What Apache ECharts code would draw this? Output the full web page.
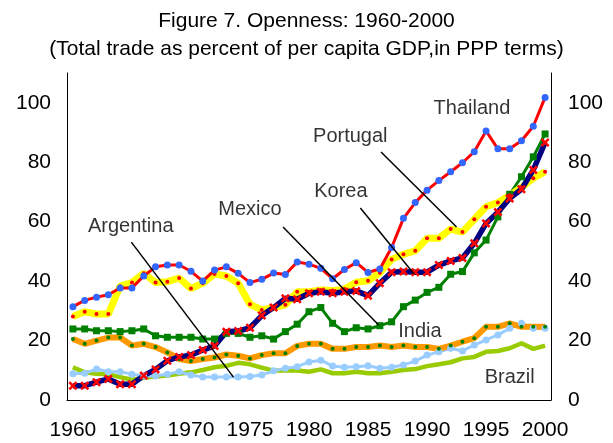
<!DOCTYPE html>
<html>
<head>
    <meta charset="utf-8">
    <title>Openness 1960-2000</title>
    <script src="https://cdn.jsdelivr.net/npm/echarts@6/dist/echarts.min.js"></script>
</head>
<body style="margin:0">
    <div id="main" style="width: 613px;height:443px;"></div>
    <script type="text/javascript">
        // years 1960..2000
        var years = [];
        for (var y = 1960; y <= 2000; y++) years.push(y);
        var yearTicks = [1960, 1965, 1970, 1975, 1980, 1985, 1990, 1995, 2000];

        // trade as % of GDP
        var thailand = [31.4, 33.5, 34.6, 35.4, 37.7, 37.7, 41.7, 44.8, 45.4, 45.4,
            43.3, 40, 43.7, 44.8, 42.6, 39.5, 40.6, 42.7, 42.2, 46.4,
            45.7, 44.3, 40.8, 43.9, 46.2, 42.9, 44.1, 51.3, 61.1, 66.4,
            70.6, 73.8, 76.8, 79.8, 83.5, 90.5, 84.5, 84.5, 87.2, 92.1, 101.8];
        var portugal = [28.1, 29.7, 28.9, 28.9, 38.3, 39.5, 42.6, 39.5, 39.8, 41,
            37.5, 39.3, 42.4, 41.7, 39.3, 32.2, 30.3, 31.1, 32, 36.4,
            36.4, 37, 36.8, 37.3, 39.6, 40.1, 42.8, 47.3, 49, 50.2,
            54.4, 54.4, 57.5, 56.5, 60.8, 65, 66.4, 68.9, 71.5, 74.6, 76.8];
        var korea = [4.8, 4.8, 6, 7.1, 5.3, 5.3, 8.2, 10.3, 13.2, 14.5,
            15.1, 16.8, 18.2, 23, 23.2, 24.3, 28.4, 31.1, 34.2, 33.9,
            35.9, 36.4, 35.9, 36.4, 36.7, 35.1, 39.3, 43, 43.2, 43,
            43, 45.4, 46.8, 47.8, 52.7, 59.4, 63.2, 67.8, 70.9, 77.4, 86.6];
        var mexico = [23.9, 23.9, 23.3, 23.3, 23, 23.3, 23.9, 21.6, 21.1, 21.1,
            21.1, 20.5, 20.5, 22.4, 22.4, 21.1, 21.6, 20.5, 23, 25.5,
            29.7, 31.1, 25.8, 23, 24.3, 23.9, 25, 26.3, 31.4, 33.6,
            36.2, 37.9, 42.3, 43.2, 49.5, 53.8, 61.6, 69.2, 75.1, 81.8, 89.5];
        var india = [20.5, 18.9, 20, 21, 21, 18.3, 18.9, 17.8, 16, 13.8,
            13.1, 13.8, 14.3, 15.3, 14.9, 14, 15.1, 15.7, 15.7, 18.2,
            18.9, 18.9, 17.2, 17.2, 17.8, 17.8, 18.3, 17.8, 18.3, 17.8,
            17.8, 17.2, 18.3, 19.6, 20.8, 24.6, 24.6, 25.8, 24.6, 24.6, 24.6];
        var argentina = [8.8, 9, 10.4, 9.5, 9.5, 8.7, 8.1, 8.1, 8.7, 9.5,
            8.4, 7.7, 7.7, 7.7, 7.7, 7.9, 8.4, 9.8, 10.7, 11.2,
            12.8, 13.4, 11.4, 11, 11.2, 11.5, 10.7, 11, 11.8, 13.1,
            15.1, 16.2, 17.4, 16.5, 18.5, 20.2, 21.9, 24.1, 25.8, 24.1, 24.1];
        var brazil = [11, 9.3, 8.8, 8.7, 7.7, 6.8, 7.5, 7.9, 8.2, 8.8,
            9.3, 10.1, 11, 11.5, 12.5, 12, 10.9, 9.9, 9.9, 9.9,
            9.5, 10.3, 9, 9, 9.5, 9, 9, 9.5, 10.1, 10.4,
            11.4, 12, 12.7, 14, 14.5, 16.2, 16.5, 17.4, 19.1, 17.2, 18.3];

        // country names placed in data space, and their pointer lines
        var notes = [
            [1993.8, 98.2, 'Thailand'],
            [1983.5, 88.8, 'Portugal'],
            [1982.7, 70.3, 'Korea'],
            [1975.0, 64.2, 'Mexico'],
            [1964.9, 58.5, 'Argentina'],
            [1989.4, 23.2, 'India'],
            [1997.0, 7.7, 'Brazil']
        ];
        var pointers = [
            [[1964.95, 53.1], [1973.6, 7.7]],
            [[1977.8, 58.2], [1985.9, 25.2]],
            [[1984.35, 64.6], [1988.9, 42.4]],
            [[1986.1, 83.4], [1992.5, 58.2]]
        ];

        function pairs(vals) {
            return vals.map(function (v, i) { return [years[i], v]; });
        }

        var FONT = 'Liberation Sans';
        var xMark = 'path://M0,2L2,0L5,3L8,0L10,2L7,5L10,8L8,10L5,7L2,10L0,8L3,5Z';

        var myChart = echarts.init(document.getElementById('main'));

        var option = {
            animation: false,
            backgroundColor: '#fff',
            textStyle: { fontFamily: FONT },
            title: {
                text: 'Figure 7. Openness: 1960-2000\n(Total trade as percent of per capita GDP,in PPP terms)',
                left: 'center',
                top: 2,
                textStyle: { fontFamily: FONT, fontSize: 21, fontWeight: 'normal', color: '#000', lineHeight: 28 }
            },
            grid: { left: 67, right: 62, top: 73, bottom: 43 },
            xAxis: {
                type: 'value',
                min: 1959.5,
                max: 2000.5,
                splitLine: { show: false },
                axisTick: { show: false },
                axisLine: { onZero: false, lineStyle: { color: '#000', width: 1 } },
                axisLabel: {
                    customValues: yearTicks,
                    color: '#000', fontSize: 21, fontFamily: FONT, margin: 20,
                    formatter: function (v) { return String(v); }
                }
            },
            yAxis: [
                {
                    type: 'value', min: 0, max: 110, interval: 20,
                    splitLine: { show: false },
                    axisTick: { show: false },
                    axisLine: { show: true, lineStyle: { color: '#000', width: 1 } },
                    axisLabel: {
                        color: '#000', fontSize: 21, fontFamily: FONT, margin: 16,
                        formatter: function (v) { return v % 20 === 0 ? v : ''; }
                    }
                },
                {
                    type: 'value', min: 0, max: 110, interval: 20, position: 'right',
                    splitLine: { show: false },
                    axisTick: { show: false },
                    axisLine: { show: true, lineStyle: { color: '#000', width: 1 } },
                    axisLabel: {
                        color: '#000', fontSize: 21, fontFamily: FONT, margin: 17,
                        formatter: function (v) { return v % 20 === 0 ? v : ''; }
                    }
                }
            ],
            series: [
                {
                    name: 'Brazil', type: 'line', data: pairs(brazil),
                    symbol: 'none', lineStyle: { color: '#99CC00', width: 4.5 }
                },
                {
                    name: 'Argentina', type: 'line', data: pairs(argentina),
                    symbol: 'circle', symbolSize: 7,
                    itemStyle: { color: '#99CCFF' }, lineStyle: { color: '#99CCFF', width: 3 }
                },
                {
                    name: 'India', type: 'line', data: pairs(india),
                    symbol: 'circle', symbolSize: 4,
                    itemStyle: { color: '#008000' }, lineStyle: { color: '#FF9900', width: 6 }
                },
                {
                    name: 'Mexico', type: 'line', data: pairs(mexico),
                    symbol: 'rect', symbolSize: 7,
                    itemStyle: { color: '#008000' }, lineStyle: { color: '#008000', width: 3 }
                },
                {
                    name: 'Portugal', type: 'line', data: pairs(portugal),
                    symbol: 'circle', symbolSize: 4,
                    itemStyle: { color: '#FF0000' }, lineStyle: { color: '#FFFF00', width: 7 }
                },
                {
                    name: 'Korea', type: 'line', data: pairs(korea),
                    symbol: xMark, symbolSize: 9,
                    itemStyle: { color: '#FF0000' }, lineStyle: { color: '#000080', width: 5.5 }
                },
                {
                    name: 'Thailand', type: 'line', data: pairs(thailand),
                    symbol: 'circle', symbolSize: 7,
                    itemStyle: { color: '#3366FF' }, lineStyle: { color: '#FF0000', width: 3 }
                },
                {
                    name: 'notes', type: 'scatter', data: notes,
                    symbolSize: 0, silent: true, z: 10,
                    label: {
                        show: true, position: 'inside', color: '#000',
                        fontSize: 20, fontFamily: FONT,
                        formatter: function (p) { return p.data[2]; }
                    },
                    markLine: {
                        silent: true, symbol: 'none',
                        label: { show: false },
                        lineStyle: { color: '#000', width: 1.5, type: 'solid' },
                        data: pointers.map(function (p) {
                            return [{ coord: p[0] }, { coord: p[1] }];
                        })
                    }
                }
            ]
        };

        myChart.setOption(option);
    </script>
</body>
</html>
